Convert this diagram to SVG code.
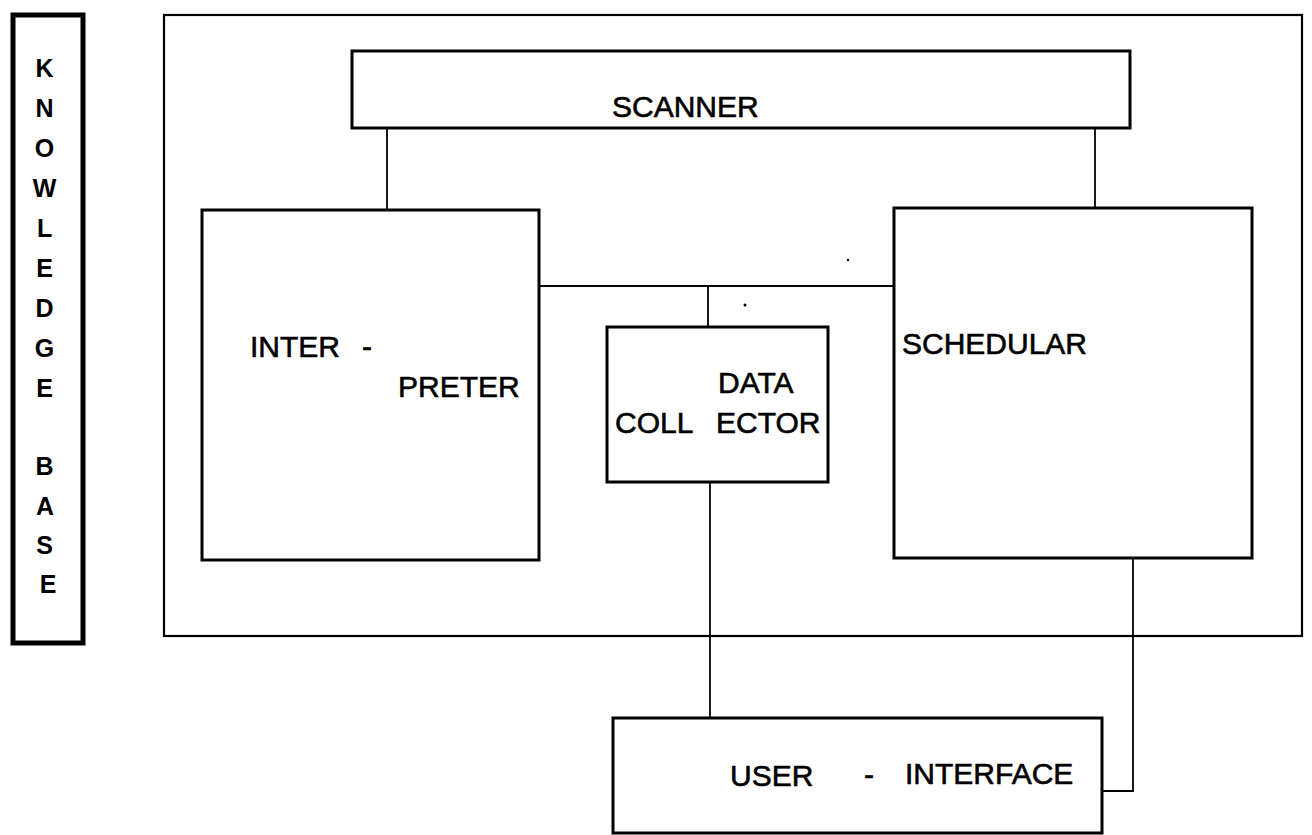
<svg xmlns="http://www.w3.org/2000/svg" width="1312" height="835" viewBox="0 0 1312 835">
<style>
  .box { fill: none; stroke: #000; stroke-width: 3; }
  .thin { fill: none; stroke: #000; stroke-width: 2.2; }
  .kb { fill: none; stroke: #000; stroke-width: 5; }
  .conn { fill: none; stroke: #000; stroke-width: 1.8; }
  .lbl { font-family: "Liberation Sans", Arial, Helvetica, sans-serif; font-size: 30px; fill: #000; stroke: #000; stroke-width: 0.6; }
  .kbl { font-family: "Liberation Sans", Arial, Helvetica, sans-serif; font-size: 25px; font-weight: bold; fill: #000; text-anchor: middle; }
</style>
<rect width="1312" height="835" fill="#fff"/>

<g id="knowledge-base">
  <rect class="kb" x="13" y="15" width="70" height="628"/>
  <text class="kbl">
    <tspan x="48" y="77">K</tspan>
    <tspan x="48" y="117">N</tspan>
    <tspan x="48" y="157">O</tspan>
    <tspan x="48" y="197">W</tspan>
    <tspan x="48" y="237">L</tspan>
    <tspan x="48" y="277">E</tspan>
    <tspan x="48" y="317">D</tspan>
    <tspan x="48" y="357">G</tspan>
    <tspan x="48" y="397">E</tspan>
    <tspan x="48" y="475">B</tspan>
    <tspan x="48" y="515">A</tspan>
    <tspan x="48" y="554">S</tspan>
    <tspan x="48" y="593">E</tspan>
  </text>
</g>

<g id="system">
  <rect class="thin" x="164" y="15" width="1138" height="621"/>
</g>

<g id="scanner">
  <rect class="box" x="352" y="51" width="778" height="77"/>
  <text class="lbl" x="612" y="117">SCANNER</text>
</g>

<g id="interpreter">
  <rect class="box" x="202" y="210" width="337" height="350"/>
  <text class="lbl"><tspan x="250" y="357">INTER</tspan><tspan x="362" y="357">-</tspan><tspan x="398" y="397">PRETER</tspan></text>
</g>

<g id="schedular">
  <rect class="box" x="894" y="208" width="358" height="350"/>
  <text class="lbl" x="902" y="354">SCHEDULAR</text>
</g>

<g id="data-collector">
  <rect class="box" x="607" y="327" width="221" height="155"/>
  <text class="lbl"><tspan x="718" y="393">DATA</tspan><tspan x="615" y="433">COLL</tspan><tspan x="716" y="433">ECTOR</tspan></text>
</g>

<g id="user-interface">
  <rect class="box" x="613" y="718" width="489" height="115"/>
  <text class="lbl"><tspan x="730" y="786">USER</tspan><tspan x="864" y="785">-</tspan><tspan x="905" y="784">INTERFACE</tspan></text>
</g>

<g id="connectors">
  <line class="conn" x1="387" y1="128" x2="387" y2="210"/>
  <line class="conn" x1="1095" y1="128" x2="1095" y2="208"/>
  <line class="conn" x1="539" y1="286" x2="894" y2="286"/>
  <line class="conn" x1="708" y1="286" x2="708" y2="327"/>
  <line class="conn" x1="710" y1="482" x2="710" y2="718"/>
  <polyline class="conn" points="1133,558 1133,791 1102,791"/>
  <circle cx="745" cy="305" r="1.5" fill="#000"/>
  <circle cx="848" cy="260" r="1.2" fill="#000"/>
</g>
</svg>
